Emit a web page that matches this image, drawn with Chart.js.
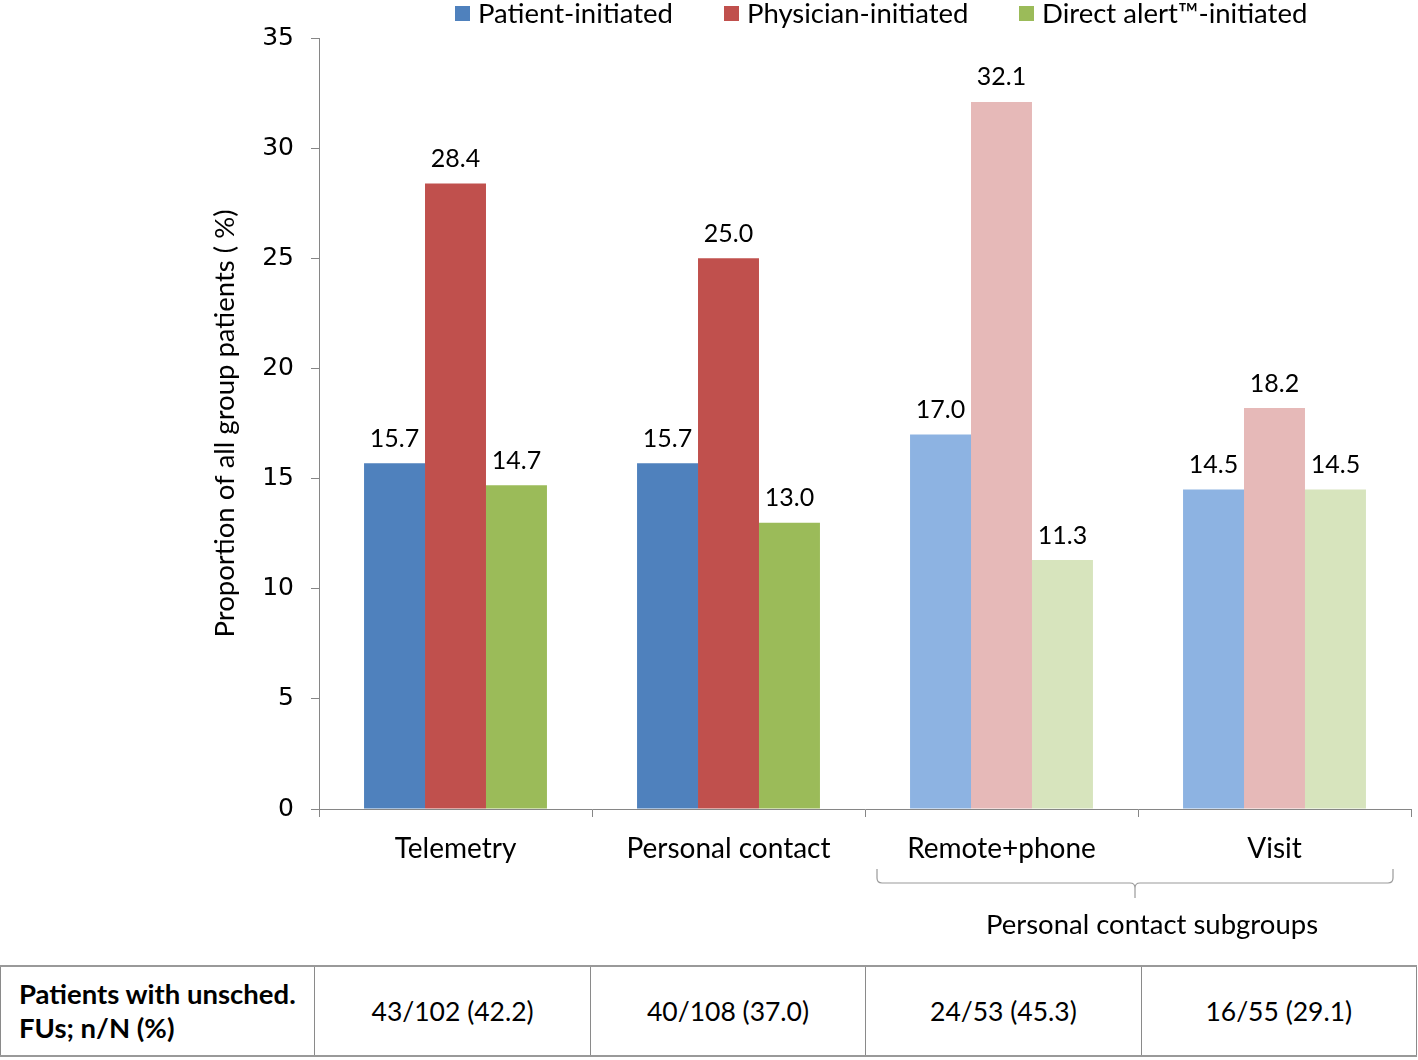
<!DOCTYPE html>
<html>
<head>
<meta charset="utf-8">
<script src="https://cdn.jsdelivr.net/npm/chart.js@4.4.1/dist/chart.umd.min.js"></script>
<style>
  body { margin: 0; background: #fff; font-family: Lato, sans-serif; }
  #wrap { position: relative; width: 1418px; height: 1060px; }
  #chartBox { position: absolute; left: 0; top: 0; width: 1418px; height: 960px; }
  .legend span.item { position: absolute; top: -2px; display: flex; align-items: center; font-size: 27.5px; line-height: 30px; white-space: nowrap; }
  .legend i { display: inline-block; width: 15px; height: 15px; margin-right: 8px; }
  table { position: absolute; left: 0; top: 965px; width: 1417px; height: 92px; border-collapse: collapse; font-size: 26.5px; }
  td { border: 1px solid #8a8a8a; text-align: center; padding: 0; }
  tr { border-top: 2px solid #999; border-bottom: 2px solid #999; }
  td.head { text-align: left; font-weight: bold; font-size: 27.5px; padding-left: 18px; line-height: 34px; }
</style>
</head>
<body>
<div id="wrap">
  <div id="chartBox"><canvas id="chart" width="1418" height="960"></canvas></div>
  <div class="legend" id="legend"></div>
  <table id="tbl"><tr></tr></table>
</div>
<script>
const categories = ['Telemetry', 'Personal contact', 'Remote+phone', 'Visit'];
const patientInit = [15.7, 15.7, 17.0, 14.5];
const physicianInit = [28.4, 25.0, 32.1, 18.2];
const directAlertInit = [14.7, 13.0, 11.3, 14.5];
const seriesNames = ['Patient-initiated', 'Physician-initiated', 'Direct alert\u2122-initiated'];
const tableHead = 'Patients with unsched.<br>FUs; n/N (%)';
const tableValues = ['43/102 (42.2)', '40/108 (37.0)', '24/53 (45.3)', '16/55 (29.1)'];
const subgroupLabel = 'Personal contact subgroups';

const darkColors = ['#4F81BD', '#C0504D', '#9BBB59'];
const lightColors = ['#8DB3E2', '#E6B9B8', '#D7E4BD'];
const legendLeft = [455, 724, 1019];

// first two categories solid, subgroups lighter
function colorsFor(i) {
    return categories.map((c, k) => (k < 2 ? darkColors[i] : lightColors[i]));
}

// legend
const legendEl = document.getElementById('legend');
seriesNames.forEach((name, i) => {
    const item = document.createElement('span');
    item.className = 'item';
    item.style.left = legendLeft[i] + 'px';
    item.innerHTML = '<i style="background:' + darkColors[i] + '"></i>' + name;
    legendEl.appendChild(item);
});

// table
const row = document.querySelector('#tbl tr');
row.innerHTML = '<td class="head" style="width:296px">' + tableHead + '</td>' +
    tableValues.map((v) => '<td style="width:275px">' + v + '</td>').join('');

const labelPlugin = {
    id: 'barLabels',
    afterDatasetsDraw(chart) {
        const ctx = chart.ctx;
        ctx.save();
        ctx.font = '25px Lato';
        ctx.fillStyle = '#000';
        ctx.textAlign = 'center';
        ctx.textBaseline = 'bottom';
        chart.data.datasets.forEach((ds, i) => {
            chart.getDatasetMeta(i).data.forEach((bar, k) => {
                ctx.fillText(ds.data[k].toFixed(1), bar.x, bar.y - 12);
            });
        });
        ctx.restore();
    },
};

const bracketPlugin = {
    id: 'bracket',
    afterDraw(chart) {
        const x = chart.scales.x;
        const half = (x.getPixelForValue(1) - x.getPixelForValue(0)) / 2;
        const left = x.getPixelForValue(2) - half + 12;
        const right = x.getPixelForValue(3) + half - 18;
        const mid = (x.getPixelForValue(2) + x.getPixelForValue(3)) / 2 - 3;
        const top = 869, base = 883, tip = 898, r = 5;
        const ctx = chart.ctx;
        ctx.save();
        ctx.strokeStyle = '#9a9a9a';
        ctx.lineWidth = 1.2;
        ctx.beginPath();
        ctx.moveTo(left, top);
        ctx.lineTo(left, base - r);
        ctx.quadraticCurveTo(left, base, left + r, base);
        ctx.lineTo(mid - r, base);
        ctx.quadraticCurveTo(mid, base, mid, base + r);
        ctx.lineTo(mid, tip);
        ctx.moveTo(mid, base + r);
        ctx.quadraticCurveTo(mid, base, mid + r, base);
        ctx.lineTo(right - r, base);
        ctx.quadraticCurveTo(right, base, right, base - r);
        ctx.lineTo(right, top);
        ctx.stroke();
        ctx.font = '27.5px Lato';
        ctx.fillStyle = '#000';
        ctx.textAlign = 'center';
        ctx.textBaseline = 'middle';
        ctx.fillText(subgroupLabel, mid + 17, 925);
        ctx.restore();
    },
};

const ctx = document.getElementById('chart').getContext('2d');
new Chart(ctx, {
    type: 'bar',
    data: {
        labels: categories,
        datasets: [
            { label: seriesNames[0], data: patientInit, backgroundColor: colorsFor(0) },
            { label: seriesNames[1], data: physicianInit, backgroundColor: colorsFor(1) },
            { label: seriesNames[2], data: directAlertInit, backgroundColor: colorsFor(2) },
        ],
    },
    options: {
        responsive: false,
        animation: false,
        layout: { padding: { top: 38, right: 7, left: 0, bottom: 0 } },
        categoryPercentage: 0.67,
        barPercentage: 1.0,
        plugins: { legend: { display: false }, tooltip: { enabled: false } },
        scales: {
            x: {
                grid: { offset: true, drawOnChartArea: false, tickLength: 8, color: '#868686' },
                border: { color: '#868686' },
                ticks: { color: '#000', font: { family: 'Lato', size: 28 }, padding: 15 },
                afterFit(scale) { scale.height = 151; },
            },
            y: {
                min: 0,
                max: 35,
                ticks: { stepSize: 5, color: '#000', font: { family: 'DejaVu Sans', size: 25 }, padding: 17 },
                grid: { drawOnChartArea: false, tickLength: 8, color: '#868686' },
                border: { color: '#868686' },
                title: {
                    display: true,
                    text: 'Proportion of all group patients ( %)',
                    color: '#000',
                    font: { family: 'Lato', size: 27.5 },
                    padding: { top: 209, bottom: 0 },
                },
                afterFit(scale) { scale.width = 319; },
            },
        },
    },
    plugins: [labelPlugin, bracketPlugin],
});
</script>
</body>
</html>
